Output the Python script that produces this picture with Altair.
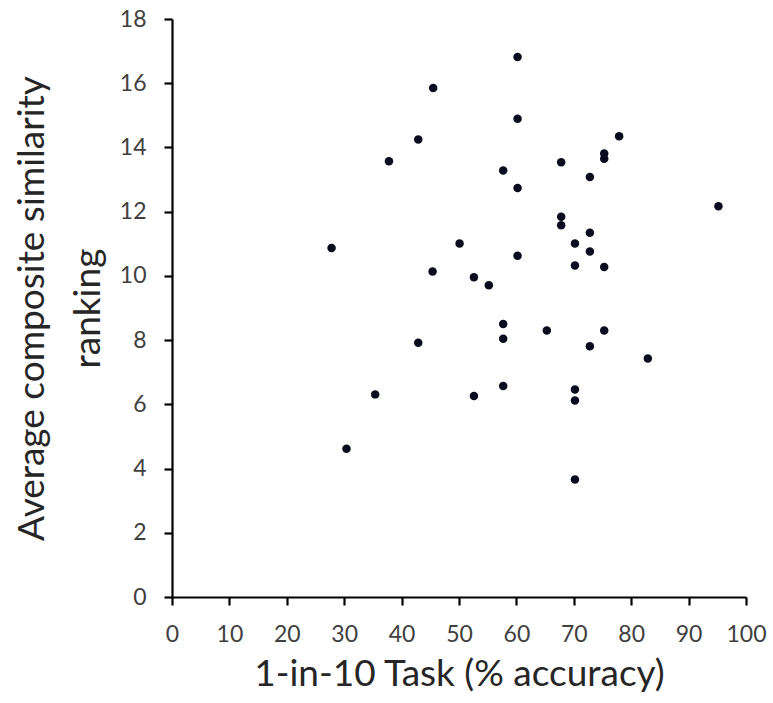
import altair as alt
import pandas as pd

accuracy = [27.8, 30.4, 35.4, 37.8, 42.9, 42.9, 45.5, 45.4, 50.1, 52.6,
            52.6, 55.2, 57.7, 57.7, 57.7, 57.7, 60.2, 60.2, 60.2, 60.2,
            65.3, 67.8, 67.8, 67.8, 70.2, 70.2, 70.2, 70.2, 70.2, 72.8,
            72.8, 72.8, 72.8, 75.3, 75.3, 75.3, 75.3, 77.9, 82.9, 95.2]
ranking = [10.87, 4.62, 6.31, 13.57, 14.25, 7.92, 15.85, 10.14, 11.01, 9.96,
           6.26, 9.71, 13.28, 8.50, 8.04, 6.57, 16.82, 14.89, 12.74, 10.63,
           8.30, 13.54, 11.84, 11.58, 11.01, 10.32, 6.46, 6.12, 3.66, 13.08,
           11.34, 10.76, 7.81, 13.81, 13.65, 10.28, 8.30, 14.35, 7.43, 12.17]
x_ticks = [0, 10, 20, 30, 40, 50, 60, 70, 80, 90, 100]
y_ticks = [0, 2, 4, 6, 8, 10, 12, 14, 16, 18]

df = pd.DataFrame({"accuracy": accuracy, "ranking": ranking})

FONT = "Lato"

chart = alt.Chart(df).mark_circle(size=72, color="#0b0b1f", opacity=1).encode(
    x=alt.X("accuracy:Q",
            scale=alt.Scale(domain=[0, 100], nice=False, zero=False),
            axis=alt.Axis(values=x_ticks, title="1-in-10 Task (% accuracy)",
                          labelPadding=18, titlePadding=10)),
    y=alt.Y("ranking:Q",
            scale=alt.Scale(domain=[0, 18], nice=False),
            axis=alt.Axis(values=y_ticks,
                          title=["Average composite similarity", "ranking"],
                          labelPadding=18, titlePadding=12,
                          titleLineHeight=56)),
).properties(
    width=574, height=578,
    autosize=alt.AutoSizeParams(type="none"),
    padding={"left": 172, "top": 19, "right": 27, "bottom": 106},
).configure_view(stroke=None).configure_axis(
    grid=False,
    domainColor="black", domainWidth=2.2,
    tickColor="black", tickWidth=2.2, tickSize=8,
    labelFont=FONT, labelFontSize=23, labelColor="#404040",
    titleFont=FONT, titleFontSize=37, titleFontWeight="normal", titleColor="#262626",
    labelFlush=False, labelOverlap=False,
)

chart.save("out.html", embed_options={"renderer": "svg", "actions": False})
